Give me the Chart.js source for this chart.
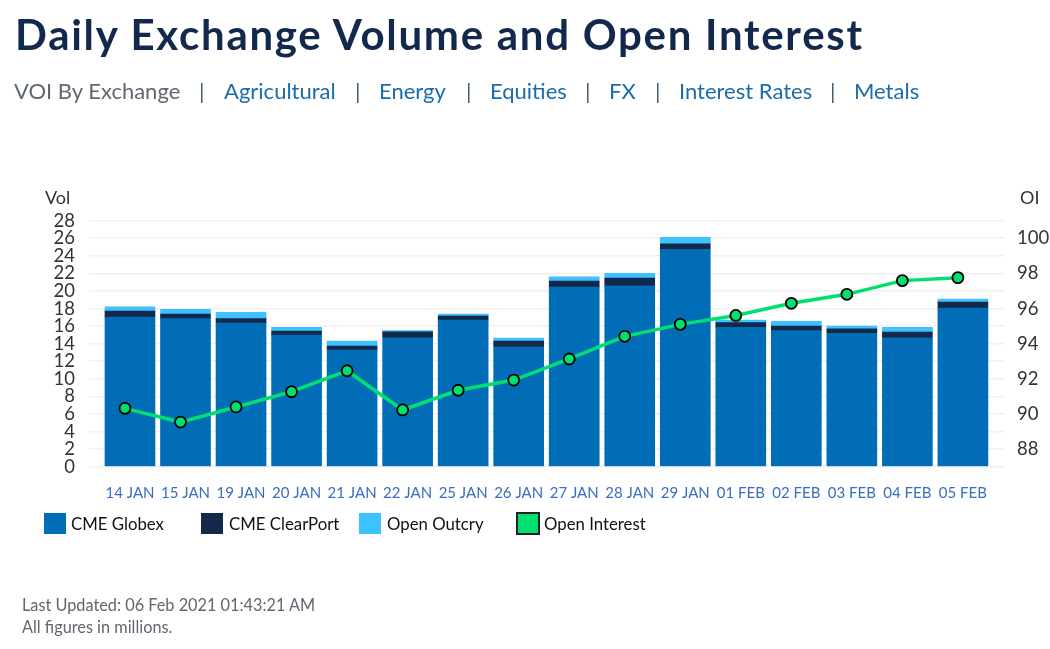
<!DOCTYPE html>
<html>
<head>
<meta charset="utf-8">
<title>Daily Exchange Volume and Open Interest</title>
<script src="https://cdn.jsdelivr.net/npm/chart.js@4/dist/chart.umd.min.js"></script>
<style>
  html, body { margin: 0; padding: 0; background: #fff; }
  body { width: 1050px; height: 649px; position: relative; overflow: hidden; font-family: Lato, sans-serif; }
  canvas { position: absolute; left: 0; top: 0; }
  .abs { position: absolute; white-space: nowrap; line-height: 1; }
  #title { left: 15px; top: 13px; font-size: 42px; font-weight: 700; color: #12294b; letter-spacing: 1.72px; }
  #nav { left: 14px; top: 80px; font-size: 22px; color: #1a6cab; }
  #nav span { position: absolute; top: 0; }
  #nav .cur { color: #5f6770; }
  #nav .sep { color: #44606f; }
  .axt { font-size: 18px; color: #333; top: 188px; }
  .foot { left: 22px; font-size: 16.3px; color: #5f6770; }
  .leg { position: absolute; top: 513px; width: 22px; height: 21px; box-sizing: border-box; }
  .legt { top: 516px; font-size: 16.8px; color: #111; }
</style>
</head>
<body>
<canvas id="voiChart" width="1050" height="649"></canvas>
<div class="abs" id="title">Daily Exchange Volume and Open Interest</div>
<div class="abs" id="nav"></div>
<div class="abs axt" style="left:45px">Vol</div>
<div class="abs axt" style="left:1020px">OI</div>
<div id="legend"></div>
<div class="abs foot" style="top:597px">Last Updated: 06 Feb 2021 01:43:21 AM</div>
<div class="abs foot" style="top:619px">All figures in millions.</div>
<script>
const dates = ['14 JAN','15 JAN','19 JAN','20 JAN','21 JAN','22 JAN','25 JAN','26 JAN','27 JAN','28 JAN','29 JAN','01 FEB','02 FEB','03 FEB','04 FEB','05 FEB'];
const globex = [17.03,16.85,16.35,14.98,13.28,14.68,16.69,13.62,20.45,20.6,24.72,15.86,15.48,15.17,14.68,18.06];
const clearport = [0.69,0.52,0.5,0.46,0.45,0.68,0.46,0.68,0.68,0.87,0.66,0.53,0.52,0.53,0.65,0.68];
const outcry = [0.48,0.53,0.71,0.42,0.57,0.14,0.22,0.34,0.49,0.53,0.72,0.3,0.54,0.3,0.53,0.34];
const openInterest = [90.32,89.54,90.4,91.27,92.46,90.23,91.35,91.93,93.13,94.42,95.1,95.61,96.3,96.81,97.59,97.76];
const volTicks = [0,2,4,6,8,10,12,14,16,18,20,22,24,26,28];
const oiTicks = [88,90,92,94,96,98,100];
const navItems = ['VOI By Exchange','Agricultural','Energy','Equities','FX','Interest Rates','Metals'];
const navX = [0,210,365,476,595,665,840];
const navSepX = [185,341,452,571,641,816];
const legendItems = [['CME Globex','#006db6',44,71],['CME ClearPort','#12294b',201,229],['Open Outcry','#3ec1ff',359,387],['Open Interest','#00e070',516,544]];

// header links
const nav = document.getElementById('nav');
navItems.forEach((t,i)=>{
  const s=document.createElement('span');s.textContent=t;s.style.left=navX[i]+'px';if(i==0)s.className='cur';nav.appendChild(s);
});
navSepX.forEach(x=>{
  const s=document.createElement('span');s.textContent='|';s.className='sep';s.style.left=x+'px';nav.appendChild(s);
});

// legend is plain html, the gaps in the original are uneven
const legend = document.getElementById('legend');
legendItems.forEach(([name,color,bx,tx],i)=>{
  const b=document.createElement('div');b.className='leg';b.style.left=bx+'px';b.style.background=color;
  if(i==3){b.style.border='2px solid #222';b.style.width='24px';b.style.height='23px';b.style.top='512px'}
  legend.appendChild(b);
  const t=document.createElement('div');t.className='abs legt';t.textContent=name;t.style.left=tx+'px';legend.appendChild(t);
});

const pts = (arr,shift=0) => arr.map((v,i)=>({x:i+shift,y:v}));
const barBase = {type:'bar',yAxisID:'y',stack:'vol',barThickness:50,order:2,borderWidth:0};

new Chart(document.getElementById('voiChart'), {
  data: {
    datasets: [
      {...barBase,label:'CME Globex',data:pts(globex),backgroundColor:'#006db6'},
      {...barBase,label:'CME ClearPort',data:pts(clearport),backgroundColor:'#12294b'},
      {...barBase,label:'Open Outcry',data:pts(outcry),backgroundColor:'#3ec1ff'},
      // the line sits about 5px left of the bar centres in the original
      {type:'line',label:'Open Interest',data:pts(openInterest,-0.09),yAxisID:'y2',order:1,
       borderColor:'#00e070',borderWidth:3.5,tension:0,
       pointRadius:5.5,pointBackgroundColor:'#00e070',pointBorderColor:'#000',pointBorderWidth:1.8}
    ]
  },
  options: {
    responsive: false,
    animation: false,
    layout: { padding: { top: 220.7 } },
    plugins: { legend: { display:false }, tooltip: { enabled:false } },
    scales: {
      x: {
        type:'linear', stacked:true, offset:false, min:-0.738, max:15.74,
        grid:{display:false}, border:{display:false},
        afterBuildTicks: s => { s.ticks = dates.map((d,i)=>({value:i})) },
        afterFit: s => { s.height = 182.3 },
        ticks:{autoSkip:false,maxRotation:0,padding:9,color:'#3a6dbf',font:{family:'Lato',size:15},callback:v=>dates[v]}
      },
      y: {
        stacked:true, min:0, max:28,
        border:{display:false},
        grid:{color:'#f1f1f1',lineWidth:1.6,drawTicks:false},
        afterBuildTicks: s => { s.ticks = volTicks.map(v=>({value:v})) },
        afterFit: s => { s.width = 89 },
        ticks:{padding:14,color:'#333',font:{family:'Lato',size:18.5},autoSkip:false}
      },
      y2: {
        position:'right', min:87, max:101,
        border:{display:false},
        grid:{display:false,drawTicks:false},
        afterBuildTicks: s => { s.ticks = oiTicks.map(v=>({value:v})) },
        afterFit: s => { s.width = 46 },
        ticks:{padding:13,color:'#333',font:{family:'Lato',size:18.5},autoSkip:false}
      }
    }
  }
});
</script>
</body>
</html>
